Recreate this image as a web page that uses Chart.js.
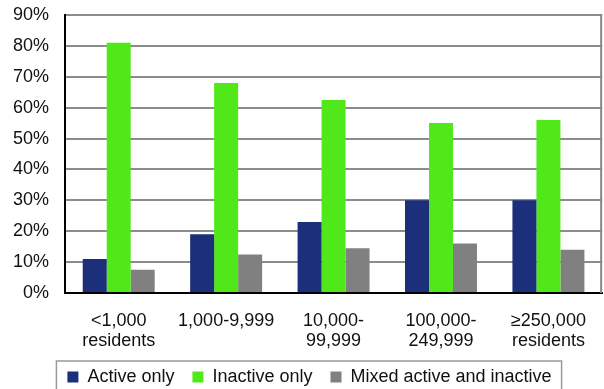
<!DOCTYPE html>
<html>
<head>
<meta charset="utf-8">
<script src="https://cdn.jsdelivr.net/npm/chart.js@4.4.1/dist/chart.umd.min.js"></script>
<style>
  html, body { margin: 0; padding: 0; background: #fff; overflow: hidden; width: 604px; height: 389px; }
  #wrap { position: relative; width: 604px; height: 396px; }
</style>
</head>
<body>
<div id="wrap"><canvas id="c" width="604" height="396"></canvas></div>
<script>
// Municipality size classes (x axis)
const categories = [
  ['<1,000', 'residents'],
  '1,000-9,999',
  ['10,000-', '99,999'],
  ['100,000-', '249,999'],
  ['\u2265250,000', 'residents']
];
// Share of municipalities per class, in percent
const activeOnly   = [11, 19, 23, 30, 30];
const inactiveOnly = [81, 68, 62.5, 55, 56];
const mixedActive  = [7.5, 12.5, 14.5, 16, 14];
// Value axis ticks (percent)
const yTickValues = [0, 10, 20, 30, 40, 50, 60, 70, 80, 90];

const FONT = '"Liberation Sans", Arial, Helvetica, sans-serif';
const TEXT = '#111111';
const LEGEND_SHIFT = 8;

// Nudges the legend row right, draws the plot's right frame line and the legend box
const framePlugin = {
  id: 'frame',
  afterLayout(chart) {
    const lg = chart.legend;
    if (!lg) return;
    lg.left += LEGEND_SHIFT;
    lg.right += LEGEND_SHIFT;
    (lg.legendHitBoxes || []).forEach(h => { h.left += LEGEND_SHIFT; });
  },
  afterDraw(chart) {
    const ctx = chart.ctx;
    const a = chart.chartArea;
    ctx.save();
    ctx.strokeStyle = '#888888';
    ctx.lineWidth = 2;
    ctx.beginPath();
    ctx.moveTo(a.right - 1, a.top - 1);
    ctx.lineTo(a.right - 1, a.bottom);
    ctx.stroke();

    const hb = chart.legend.legendHitBoxes;
    if (hb && hb.length) {
      const first = hb[0], last = hb[hb.length - 1];
      const x0 = first.left - 11;
      const x1 = last.left + last.width + 10;
      const y0 = first.top - 7;
      ctx.strokeStyle = '#9a9a9a';
      ctx.lineWidth = 1.5;
      ctx.strokeRect(x0, y0, x1 - x0, chart.height);
    }
    ctx.restore();
  }
};

new Chart(document.getElementById('c'), {
  type: 'bar',
  data: {
    labels: categories,
    datasets: [
      { label: 'Active only', data: activeOnly, backgroundColor: '#1b2f7a', borderWidth: 0 },
      { label: 'Inactive only', data: inactiveOnly, backgroundColor: '#50e818', borderWidth: 0 },
      { label: 'Mixed active and inactive', data: mixedActive, backgroundColor: '#808080', borderWidth: 0 }
    ]
  },
  options: {
    responsive: false,
    animation: false,
    devicePixelRatio: 1,
    layout: { padding: { top: 15, right: 1, left: 0, bottom: 0 } },
    datasets: { bar: { categoryPercentage: 0.67, barPercentage: 1.0 } },
    plugins: {
      tooltip: { enabled: false },
      legend: {
        position: 'bottom',
        labels: {
          boxWidth: 11,
          boxHeight: 11,
          padding: 18,
          color: TEXT,
          font: { family: FONT, size: 18 }
        }
      }
    },
    scales: {
      x: {
        grid: { display: false, drawTicks: false },
        border: { display: true, color: '#000', width: 2 },
        ticks: {
          color: TEXT,
          padding: 18,
          maxRotation: 0,
          autoSkip: false,
          font: { family: FONT, size: 18, lineHeight: 1.12 }
        },
        afterFit(scale) { scale.height = 57; }
      },
      y: {
        min: 0,
        max: 90,
        afterBuildTicks(scale) { scale.ticks = yTickValues.map(v => ({ value: v })); },
        grid: { color: '#8c8c8c', lineWidth: 2, drawTicks: true, tickLength: 16, tickColor: 'rgba(0,0,0,0)' },
        border: { display: true, color: '#000', width: 2 },
        ticks: {
          color: TEXT,
          padding: 0,
          font: { family: FONT, size: 18 },
          callback: v => v + '%'
        },
        afterFit(scale) { scale.width = 65; }
      }
    }
  },
  plugins: [framePlugin]
});
</script>
</body>
</html>
